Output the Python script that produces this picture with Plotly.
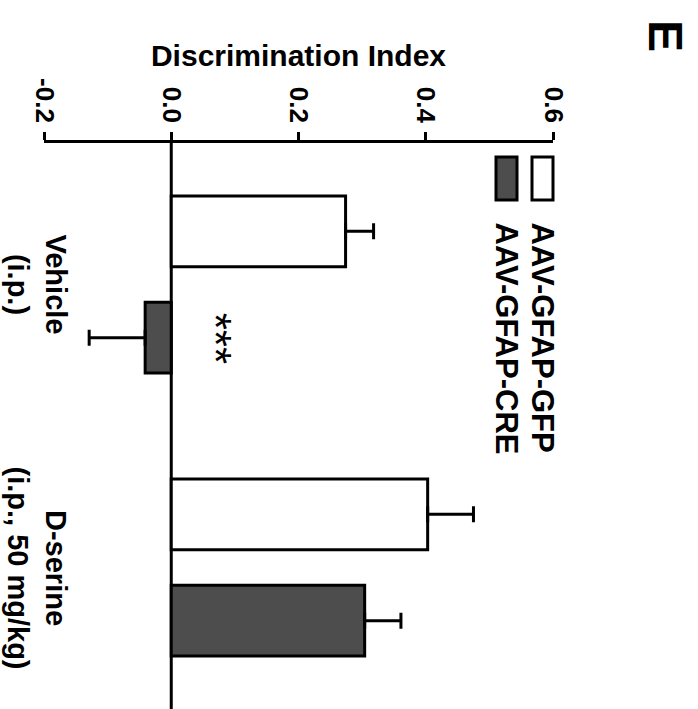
import plotly.graph_objects as go

# Discrimination index per treatment group (mean and SEM)
groups = ["Vehicle", "D-serine"]
group_labels = ["Vehicle<br>(i.p.)", "D-serine<br>(i.p., 50 mg/kg)"]
series_names = ["AAV-GFAP-GFP", "AAV-GFAP-CRE"]
gfp_mean = [0.274, 0.403]
gfp_sem = [0.044, 0.072]
cre_mean = [-0.041, 0.304]
cre_sem = [0.088, 0.057]
x_ticks = [-0.2, 0.0, 0.2, 0.4, 0.6]
x_tick_text = ["-0.2", "0.0", "0.2", "0.4", "0.6"]

FONT = "Liberation Sans, Arial, sans-serif"
W, H = 698, 709
ML, MR, MT, MB = 44, 145, 143, 0
PW, PH = W - ML - MR, H - MT - MB


def px(xp):
    return (xp - ML) / PW


def py(yp):
    return (H - MB - yp) / PH


def one_sided(means, sems):
    plus = [s if m >= 0 else 0 for m, s in zip(means, sems)]
    minus = [s if m < 0 else 0 for m, s in zip(means, sems)]
    return plus, minus


fig = go.Figure()

for name, means, sems, fill, off in [
    (series_names[0], gfp_mean, gfp_sem, "#ffffff", -0.313),
    (series_names[1], cre_mean, cre_sem, "#4d4d4d", 0.063),
]:
    plus, minus = one_sided(means, sems)
    fig.add_trace(go.Bar(
        name=name, orientation="h", y=groups, x=means,
        width=0.25, offset=off,
        marker=dict(color=fill, line=dict(color="black", width=3)),
        error_x=dict(type="data", symmetric=False, array=plus, arrayminus=minus,
                     color="black", thickness=3, width=8),
        showlegend=False,
    ))

# baseline at zero
fig.add_shape(type="line", xref="x", yref="paper", x0=0, x1=0, y0=0, y1=1,
              line=dict(color="black", width=3), layer="below")

# category labels (rotated)
for g, lab in zip(groups, group_labels):
    fig.add_annotation(xref="paper", yref="y", x=px(37), y=g, text=f"<b>{lab}</b>",
                       textangle=90, showarrow=False, xanchor="center", yanchor="middle",
                       font=dict(family=FONT, size=29, color="black"))

# significance marker on CRE vehicle bar
fig.add_annotation(xref="x", yref="y", x=0.07, y=groups[0], yshift=-54, text="***",
                   textangle=90, showarrow=False, xanchor="center", yanchor="middle",
                   font=dict(family=FONT, size=44, color="black"))

# legend swatches and labels
legend_items = [(series_names[0], "#ffffff", 532, 553), (series_names[1], "#4d4d4d", 496, 517)]
for name, fill, x0, x1 in legend_items:
    fig.add_shape(type="rect", xref="paper", yref="paper", x0=px(x0), x1=px(x1),
                  y0=py(200), y1=py(157), fillcolor=fill,
                  line=dict(color="black", width=3))
    fig.add_annotation(xref="paper", yref="paper", x=px((x0 + x1) / 2), y=py(220),
                       text=f"<b>{name}</b>", textangle=90, showarrow=False,
                       xanchor="center", yanchor="top",
                       font=dict(family=FONT, size=31, color="black"))

# panel letter
fig.add_annotation(xref="paper", yref="paper", x=px(666), y=py(36), text="<b>E</b>",
                   textangle=90, showarrow=False, xanchor="center", yanchor="middle",
                   font=dict(family=FONT, size=48, color="black"))

fig.update_layout(
    width=W, height=H, margin=dict(l=ML, r=MR, t=MT, b=MB, pad=0),
    plot_bgcolor="white", paper_bgcolor="white",
    barmode="overlay", showlegend=False,
    font=dict(family=FONT, color="black"),
)
fig.update_xaxes(
    side="top", range=[-0.2, 0.6], tickvals=x_ticks, ticktext=[f"<b>{t}</b>" for t in x_tick_text],
    tickangle=90, tickfont=dict(family=FONT, size=26, color="black"),
    ticks="outside", ticklen=8, tickwidth=3, tickcolor="black",
    showline=True, linewidth=3, linecolor="black",
    showgrid=False, zeroline=False,
    title=dict(text="<b>Discrimination Index</b>", standoff=3,
               font=dict(family=FONT, size=30, color="black")),
)
fig.update_yaxes(
    range=[1.5, -0.5], showticklabels=False, ticks="", showline=False,
    showgrid=False, zeroline=False,
)

fig.write_html("out.html")
